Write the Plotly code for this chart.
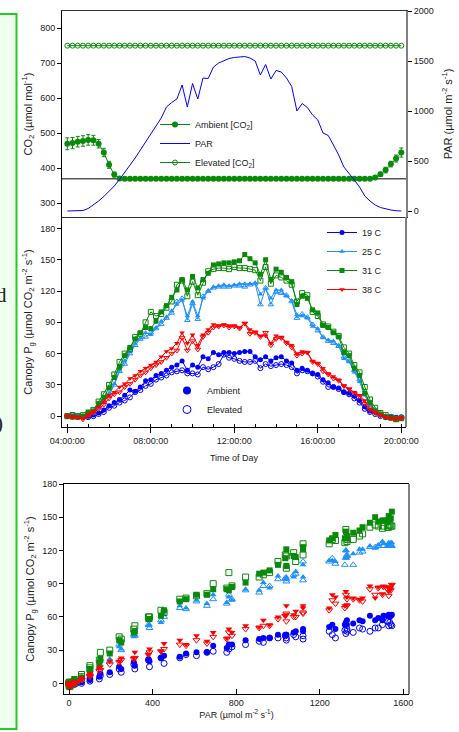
import plotly.graph_objects as go

# ---------------- data ----------------
hours = [4 + 0.25 * i for i in range(65)]          # 04:00 .. 20:00, 15-min steps
time_tickvals = [4, 8, 12, 16, 20]
time_ticktext = ["04:00:00", "08:00:00", "12:00:00", "16:00:00", "20:00:00"]

co2_ambient = [470, 472, 476, 478, 481, 480, 470, 445, 410, 382, 371,
               370, 370, 370, 370, 370, 370, 370, 370, 370, 370, 370, 370, 370, 370,
               370, 370, 370, 370, 370, 370, 370, 370, 370, 370, 370, 370, 370, 370,
               370, 370, 370, 370, 370, 370, 370, 370, 370, 370, 370, 370, 370, 370,
               370, 370, 370, 370, 370, 370,
               374, 383, 395, 412, 428, 445]
co2_ambient_err = [17, 16, 15, 15, 15, 14, 12, 12, 10, 7, 4,
                   2, 2, 2, 2, 2, 2, 2, 2, 2, 2, 2, 2, 2, 2,
                   2, 2, 2, 2, 2, 2, 2, 2, 2, 2, 2, 2, 2, 2,
                   2, 2, 2, 2, 2, 2, 2, 2, 2, 2, 2, 2, 2, 2,
                   2, 2, 2, 2, 2, 2,
                   5, 6, 8, 8, 10, 13]
co2_elevated = [750, 750, 750, 750, 750, 750, 750, 750, 750, 750, 750, 750, 750,
                750, 750, 750, 750, 750, 750, 750, 750, 750, 750, 750, 750, 750,
                750, 750, 750, 750, 750, 750, 750, 750, 750, 750, 750, 750, 750,
                750, 750, 750, 750, 750, 750, 750, 750, 750, 750, 750, 750, 750,
                750, 750, 750, 750, 750, 750, 750, 750, 750, 750, 750, 750, 750]

par = [0, 0, 0, 5, 25, 60, 100, 145, 195, 250,
       315, 385, 455, 530, 610, 690, 765, 845, 930, 1040,
       1085, 1120, 1260, 1040, 1275, 1120, 1330, 1325, 1440, 1480,
       1505, 1525, 1535, 1540, 1545, 1530, 1500, 1360, 1465, 1320,
       1405, 1390, 1330, 1245, 1000, 1075, 1035, 960, 910, 780,
       755, 660, 560, 440, 380, 310, 240, 150, 100, 60,
       35, 20, 10, 3, 0]

temps = ["19 C", "25 C", "31 C", "38 C"]

pg_ambient_19 = [0, 0, -1, 0, 0, 1, 3, 6, 10, 13, 16, 20, 25, 24, 28, 34, 35, 39, 41, 44,
                 47, 49, 53, 44, 49, 47, 57, 55, 61, 59, 61,
                 61, 60, 61, 62, 62, 57, 54, 57, 53, 56, 57, 53, 51, 44, 46, 44, 41, 40, 35, 32,
                 28, 27, 23, 22, 19, 15, 9, 5, 4, 1, 0, -1, -1, -1]
pg_elevated_19 = [0, 1, 0, -1, -1, 0, 2, 4, 8, 10, 13, 15, 18, 23, 25, 29, 31, 35, 37, 39,
                  42, 43, 44, 41, 41, 40, 47, 45, 47, 50, 59,
                  56, 55, 53, 52, 52, 53, 46, 50, 48, 49, 50, 49, 47, 41, 44, 43, 41, 38, 33, 28,
                  28, 26, 23, 21, 17, 13, 7, 4, 2, 0, -1, -1, -2, -1]
pg_ambient_25 = [0, 0, -1, 0, 2, 4, 10, 15, 22, 31, 44, 53, 62, 70, 75, 80, 78, 85, 91, 95,
                 101, 107, 111, 96, 110, 96, 113, 120, 124, 125, 126,
                 125, 126, 127, 127, 127, 128, 117, 122, 113, 121, 121, 115, 111, 97, 96, 94, 86, 84, 75, 73,
                 72, 68, 55, 52, 42, 33, 20, 10, 5, 1, -1, -2, -2, -1]
pg_elevated_25 = [0, 1, 0, 0, 1, 3, 8, 14, 20, 30, 43, 50, 60, 68, 74, 76, 80, 84, 88, 94,
                  99, 110, 113, 92, 108, 93, 115, 120, 123, 124, 124,
                  124, 125, 125, 124, 126, 127, 107, 123, 107, 119, 118, 116, 110, 94, 98, 95, 88, 82, 76, 72,
                  70, 67, 57, 53, 44, 35, 22, 12, 6, 2, 0, -2, -2, -1]
pg_ambient_31 = [0, -1, -1, 0, 4, 5, 12, 18, 27, 37, 47, 58, 66, 74, 80, 85, 84, 91, 100, 106,
                 114, 121, 131, 121, 134, 123, 131, 137, 145, 146, 147,
                 147, 148, 149, 155, 151, 147, 136, 150, 131, 141, 138, 133, 129, 107, 115, 113, 102, 99, 87, 85,
                 80, 76, 61, 58, 46, 39, 22, 13, 5, 2, -1, -2, -3, -2]
pg_elevated_31 = [0, 1, 0, 1, 2, 6, 14, 21, 30, 40, 52, 60, 64, 76, 79, 90, 100, 96, 98, 104,
                  110, 126, 130, 115, 129, 116, 128, 139, 141, 142, 142,
                  141, 143, 142, 142, 141, 140, 130, 143, 127, 135, 133, 130, 126, 110, 118, 116, 100, 96, 88, 86,
                  81, 77, 66, 60, 49, 42, 28, 16, 8, 3, 1, -1, -3, -2]
pg_ambient_38 = [0, 0, -1, -2, 2, 5, 9, 14, 20, 23, 28, 31, 36, 39, 43, 46, 49, 52, 57, 62,
                 65, 70, 80, 70, 78, 68, 78, 83, 88, 87, 88,
                 87, 87, 85, 89, 83, 81, 77, 77, 70, 77, 76, 71, 68, 60, 62, 61, 53, 51, 46, 41,
                 38, 35, 29, 26, 23, 20, 15, 7, 4, 1, -1, -2, -2, -1]
pg_elevated_38 = [0, -1, -1, -3, 0, 3, 7, 11, 17, 21, 23, 28, 31, 35, 39, 42, 46, 49, 52, 56,
                  60, 63, 75, 63, 72, 64, 76, 80, 85, 86, 87,
                  85, 86, 84, 89, 79, 80, 76, 80, 68, 74, 75, 70, 66, 58, 60, 61, 52, 50, 43, 40,
                  36, 34, 29, 26, 22, 19, 12, 6, 3, 1, -1, -2, -3, -2]

pg_ambient = [pg_ambient_19, pg_ambient_25, pg_ambient_31, pg_ambient_38]
pg_elevated = [pg_elevated_19, pg_elevated_25, pg_elevated_31, pg_elevated_38]

# ---------------- styles ----------------
W, H = 459, 732
GREEN = "#0a8a0a"
colors = ["#0000ff", "#1e90ff", "#0a8a0a", "#ff0000"]
symbols = ["circle", "triangle-up", "square", "triangle-down"]
FONT = "Liberation Sans, Arial, sans-serif"


def fx(p):
    return p / W


def fy(p):
    return 1 - p / H


fig = go.Figure()

# ---- top panel: CO2 and PAR ----
fig.add_trace(go.Scatter(
    x=hours, y=co2_ambient, name="Ambient [CO<sub>2</sub>]", mode="lines+markers",
    error_y=dict(type="data", array=co2_ambient_err, color=GREEN, thickness=1, width=2),
    marker=dict(symbol="circle", size=6, color=GREEN),
    line=dict(color=GREEN, width=1), xaxis="x", yaxis="y", legend="legend"))
fig.add_trace(go.Scatter(
    x=hours, y=par, name="PAR", mode="lines",
    line=dict(color="#0000ff", width=1), xaxis="x", yaxis="y2", legend="legend"))
fig.add_trace(go.Scatter(
    x=hours, y=co2_elevated, name="Elevated [CO<sub>2</sub>]", mode="lines+markers",
    marker=dict(symbol="circle-open", size=5, color=GREEN, line=dict(width=1)),
    line=dict(color=GREEN, width=1), xaxis="x", yaxis="y", legend="legend"))

# ---- middle panel: Pg over the day ----
for k in range(4):
    fig.add_trace(go.Scatter(
        x=hours, y=pg_elevated[k], name=temps[k] + " elevated", mode="lines+markers",
        marker=dict(symbol=symbols[k] + "-open", size=5, color=colors[k], line=dict(width=1)),
        line=dict(color=colors[k], width=1), showlegend=False, xaxis="x2", yaxis="y3"))
    fig.add_trace(go.Scatter(
        x=hours, y=pg_ambient[k], name=temps[k], mode="lines+markers",
        marker=dict(symbol=symbols[k], size=5, color=colors[k]),
        line=dict(color=colors[k], width=1), xaxis="x2", yaxis="y3", legend="legend2"))

fig.add_trace(go.Scatter(x=[None], y=[None], name="Ambient", mode="markers",
                         marker=dict(symbol="circle", size=8, color="#0000ff"),
                         xaxis="x2", yaxis="y3", legend="legend3"))
fig.add_trace(go.Scatter(x=[None], y=[None], name="Elevated", mode="markers",
                         marker=dict(symbol="circle-open", size=8, color="#0000ff", line=dict(width=1)),
                         xaxis="x2", yaxis="y3", legend="legend3"))

# ---- bottom panel: Pg vs PAR ----
for k in range(4):
    fig.add_trace(go.Scatter(
        x=par, y=pg_elevated[k], mode="markers", showlegend=False,
        marker=dict(symbol=symbols[k] + "-open", size=6, color=colors[k], line=dict(width=1)),
        xaxis="x3", yaxis="y4"))
    fig.add_trace(go.Scatter(
        x=par, y=pg_ambient[k], mode="markers", showlegend=False,
        marker=dict(symbol=symbols[k], size=6, color=colors[k]),
        xaxis="x3", yaxis="y4"))

tickfont = dict(family=FONT, size=9, color="#222")
base = dict(showgrid=False, zeroline=False, showline=True, linecolor="#000", linewidth=1,
            ticks="outside", ticklen=4, tickcolor="#000", tickfont=tickfont, automargin=False)

ytitle_font = dict(family=FONT, size=11, color="#222")
xtitle_font = dict(family=FONT, size=9, color="#222")

fig.update_layout(
    width=W, height=H, template="none",
    margin=dict(l=0, r=0, t=0, b=0),
    paper_bgcolor="white", plot_bgcolor="rgba(0,0,0,0)",
    font=dict(family=FONT, size=9, color="#222"),
    xaxis=dict(base, domain=[fx(62), fx(406)], anchor="y", range=[3.746, 20.225],
               showticklabels=False, ticks="", mirror=True, linecolor="#333"),
    yaxis=dict(base, domain=[fy(217), fy(11)], anchor="x", range=[261, 849],
               tickvals=[300, 400, 500, 600, 700, 800],
               title=dict(text="CO<sub>2</sub> (µmol mol<sup>-1</sup>)", font=ytitle_font, standoff=5)),
    yaxis2=dict(base, overlaying="y", side="right", anchor="x", range=[-60, 2000],
                tickvals=[0, 500, 1000, 1500, 2000], linecolor="#808080", linewidth=2,
                title=dict(text="PAR (µmol m<sup>-2</sup> s<sup>-1</sup>)", font=ytitle_font, standoff=11)),
    xaxis2=dict(base, domain=[fx(62), fx(406)], anchor="y3", range=[3.746, 20.225],
                tickvals=time_tickvals, ticktext=time_ticktext, ticklen=5,
                minor=dict(tick0=4, dtick=1, ticks="inside", ticklen=3, tickcolor="#000"),
                title=dict(text="Time of Day", font=xtitle_font, standoff=9)),
    yaxis3=dict(base, domain=[fy(427), fy(217)], anchor="x2", range=[-10.4, 191],
                tickvals=[0, 30, 60, 90, 120, 150, 180],
                title=dict(text="Canopy P<sub>g</sub> (µmol CO<sub>2</sub> m<sup>-2</sup> s<sup>-1</sup>)",
                           font=ytitle_font, standoff=5)),
    xaxis3=dict(base, domain=[fx(64), fx(409)], anchor="y4", range=[-24, 1627],
                tickvals=[0, 400, 800, 1200, 1600], ticks="inside", ticklen=5, mirror=True,
                title=dict(text="PAR (µmol m<sup>-2</sup> s<sup>-1</sup>)", font=xtitle_font, standoff=4)),
    yaxis4=dict(base, domain=[fy(694), fy(484)], anchor="x3", range=[-9.6, 180],
                tickvals=[0, 30, 60, 90, 120, 150, 180],
                title=dict(text="Canopy P<sub>g</sub> (µmol CO<sub>2</sub> m<sup>-2</sup> s<sup>-1</sup>)",
                           font=ytitle_font, standoff=5)),
    legend=dict(x=fx(155), y=fy(110), xanchor="left", yanchor="top", bgcolor="rgba(0,0,0,0)",
                font=dict(family=FONT, size=9, color="#222"), itemwidth=30, tracegroupgap=0),
    legend2=dict(x=fx(322), y=fy(218), xanchor="left", yanchor="top", bgcolor="rgba(0,0,0,0)",
                 font=dict(family=FONT, size=9, color="#222"), itemwidth=30, tracegroupgap=0),
    legend3=dict(x=fx(167), y=fy(376), xanchor="left", yanchor="top", bgcolor="rgba(0,0,0,0)",
                 font=dict(family=FONT, size=9, color="#222"), itemwidth=30, tracegroupgap=0),
    showlegend=True,
)

# reference line at ambient CO2 of 370
fig.add_shape(type="line", xref="x domain", yref="y", x0=0, x1=1, y0=370, y1=370,
              line=dict(color="#555", width=1.5), layer="below")
# gray right frame edges
fig.add_shape(type="line", xref="paper", yref="paper", x0=fx(406), x1=fx(406), y0=fy(427), y1=fy(217),
              line=dict(color="#808080", width=2))
fig.add_shape(type="line", xref="paper", yref="paper", x0=fx(409), x1=fx(409), y0=fy(694), y1=fy(484),
              line=dict(color="#808080", width=2))

# green side panel at the left edge (from the surrounding slide)
fig.add_shape(type="rect", xref="paper", yref="paper", x0=-0.05, x1=fx(16.5), y0=fy(729), y1=fy(14),
              fillcolor="#effeef", line=dict(color="#22cc22", width=2), layer="below")
fig.add_annotation(text="d", xref="paper", yref="paper", x=fx(9), y=fy(295), xanchor="right",
                   yanchor="middle", showarrow=False,
                   font=dict(family="Liberation Serif, DejaVu Serif, serif", size=21, color="#222"))
fig.add_annotation(text=")", xref="paper", yref="paper", x=fx(5), y=fy(423), xanchor="right",
                   yanchor="middle", showarrow=False,
                   font=dict(family="Liberation Serif, DejaVu Serif, serif", size=21, color="#222"))

fig.write_html("out.html", config={"displayModeBar": False},
               post_script="document.body.style.margin='0px';")
